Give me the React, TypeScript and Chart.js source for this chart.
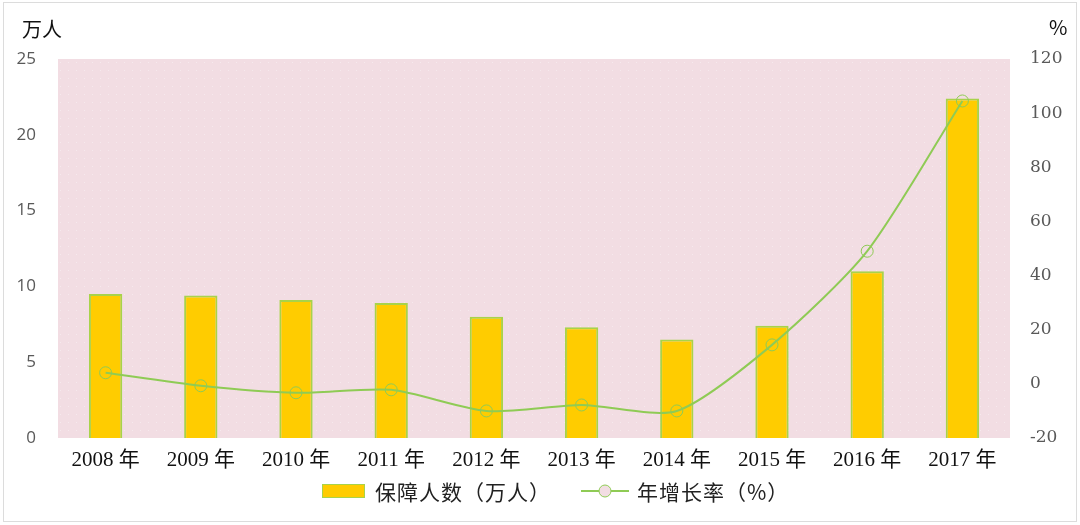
import React, { useEffect, useRef } from "react";
import { Chart, registerables } from "chart.js";

Chart.register(...registerables);

const categories = ["2008 年", "2009 年", "2010 年", "2011 年", "2012 年", "2013 年", "2014 年", "2015 年", "2016 年", "2017 年"];
const insuredPeople = [9.5, 9.4, 9.1, 8.9, 8.0, 7.3, 6.5, 7.4, 11.0, 22.4];
const growthRate = [4.1, -0.7, -3.3, -2.2, -10.0, -7.8, -10.0, 14.4, 49.0, 104.5];
const leftTicks = [0, 5, 10, 15, 20, 25];
const rightTicks = [-20, 0, 20, 40, 60, 80, 100, 120];
const barLabel = "保障人数（万人）";
const lineLabel = "年增长率（%）";

const BAR_FILL = "#FFCC00";
const BAR_EDGE = "#A8D34A";
const LINE_COLOR = "#8FCB55";
const PLOT_BG = "#F2DDE3";

const bgPlugin = {
  id: "plotBg",
  beforeDraw(chart: any) {
    const { ctx, chartArea } = chart;
    ctx.save();
    ctx.fillStyle = "#ffffff";
    ctx.fillRect(0, 0, chart.width, chart.height);
    ctx.strokeStyle = "#dcdcdc";
    ctx.lineWidth = 1;
    ctx.strokeRect(3.5, 2.5, chart.width - 7, chart.height - 6);
    ctx.fillStyle = PLOT_BG;
    ctx.fillRect(chartArea.left, chartArea.top, chartArea.right - chartArea.left, chartArea.bottom - chartArea.top);
    // faint dotted texture
    ctx.fillStyle = "rgba(255,255,255,0.35)";
    for (let y = chartArea.top + 3; y < chartArea.bottom; y += 8) {
      for (let x = chartArea.left + ((y / 8) % 2 ? 2 : 6); x < chartArea.right; x += 8) {
        ctx.fillRect(x, y, 1, 1);
      }
    }
    ctx.fillStyle = "#111";
    ctx.font = "20px 'Noto Sans CJK SC'";
    ctx.textBaseline = "middle";
    ctx.textAlign = "left";
    ctx.fillText("万人", 22, 29);
    ctx.fillText("%", 1049, 27);
    ctx.restore();
  },
};

function App() {
  const ref = useRef<HTMLCanvasElement | null>(null);

  useEffect(() => {
    if (!ref.current) return;
    const chart = new Chart(ref.current, {
      type: "bar",
      data: {
        labels: categories,
        datasets: [
          {
            type: "bar",
            label: barLabel,
            data: insuredPeople,
            backgroundColor: BAR_FILL,
            borderColor: BAR_EDGE,
            borderWidth: 2,
            categoryPercentage: 1,
            barPercentage: 0.35,
            yAxisID: "y",
            order: 2,
          },
          {
            type: "line",
            label: lineLabel,
            data: growthRate,
            borderColor: LINE_COLOR,
            borderWidth: 2,
            pointRadius: 6,
            pointBorderWidth: 1,
            pointBorderColor: LINE_COLOR,
            pointBackgroundColor: "rgba(0,0,0,0)",
            tension: 0.25,
            yAxisID: "y1",
            order: 1,
          },
        ],
      },
      options: {
        animation: false,
        responsive: false,
        maintainAspectRatio: false,
        layout: { padding: { top: 59, bottom: 47, left: 0, right: 0 } },
        plugins: {
          legend: { display: false },
          tooltip: { enabled: false },
        },
        scales: {
          x: {
            grid: { display: false, drawTicks: false },
            border: { display: false },
            ticks: {
              color: "#111",
              padding: 10,
              font: { family: "'Liberation Serif', 'Noto Sans CJK SC'", size: 21 },
            },
            afterFit(scale: any) {
              scale.height = 40;
            },
          },
          y: {
            position: "left",
            min: 0,
            max: 25,
            afterBuildTicks(scale: any) {
              scale.ticks = leftTicks.map((v) => ({ value: v }));
            },
            grid: { display: false, drawTicks: false },
            border: { display: false },
            ticks: {
              color: "#595959",
              padding: 22,
              font: { family: "'Open Sans', 'Liberation Sans'", size: 17 },
            },
            afterFit(scale: any) {
              scale.width = 58;
            },
          },
          y1: {
            position: "right",
            min: -20,
            max: 120,
            afterBuildTicks(scale: any) {
              scale.ticks = rightTicks.map((v) => ({ value: v }));
            },
            grid: { display: false, drawTicks: false },
            border: { display: false },
            ticks: {
              color: "#595959",
              padding: 20,
              font: { family: "'DejaVu Serif', 'Liberation Serif'", size: 17 },
            },
            afterFit(scale: any) {
              scale.width = 70;
            },
          },
        },
      },
      plugins: [bgPlugin],
    });
    return () => chart.destroy();
  }, []);

  const legendText: React.CSSProperties = {
    fontFamily: "'Noto Sans CJK SC', sans-serif",
    fontSize: 21,
    color: "#222",
    lineHeight: "24px",
    letterSpacing: 1,
  };

  return (
    <div style={{ position: "fixed", left: 0, top: 0, width: 1080, height: 525, background: "#fff" }}>
      <canvas ref={ref} width={1080} height={525} style={{ position: "absolute", left: 0, top: 0, width: 1080, height: 525 }} />
      <div style={{ position: "absolute", left: 322, top: 479, height: 24, display: "flex", alignItems: "center" }}>
        <span style={{ display: "inline-block", width: 43, height: 14, background: BAR_FILL, boxShadow: `inset 0 0 0 1px ${BAR_EDGE}` }} />
        <span style={{ ...legendText, marginLeft: 10 }}>{barLabel}</span>
        <svg width="48" height="20" style={{ marginLeft: 30 }}>
          <line x1="0" y1="10" x2="48" y2="10" stroke={LINE_COLOR} strokeWidth="2" />
          <circle cx="24" cy="10" r="6" fill={PLOT_BG} stroke={LINE_COLOR} strokeWidth="1" />
        </svg>
        <span style={{ ...legendText, marginLeft: 8 }}>{lineLabel}</span>
      </div>
    </div>
  );
}

export default App;
